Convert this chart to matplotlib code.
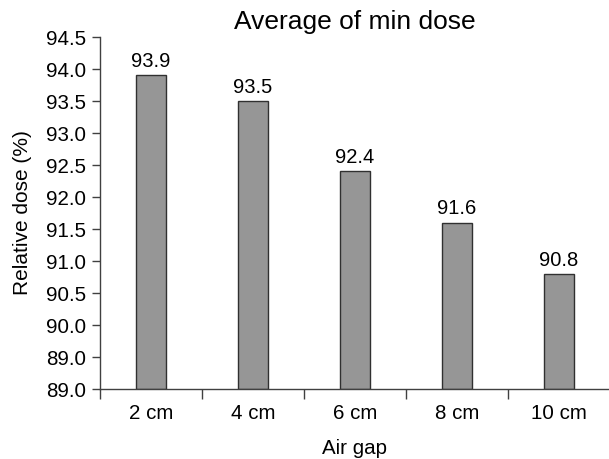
import numpy as np
import matplotlib.pyplot as plt

# data
categories = ["2 cm", "4 cm", "6 cm", "8 cm", "10 cm"]
min_dose = [93.9, 93.5, 92.4, 91.6, 90.8]
ytick_vals = [89.0, 89.5, 90.0, 90.5, 91.0, 91.5, 92.0, 92.5, 93.0, 93.5, 94.0, 94.5]
ytick_text = ["89.0", "89.0", "90.0", "90.5", "91.0", "91.5", "92.0", "92.5",
              "93.0", "93.5", "94.0", "94.5"]

plt.rcParams['font.family'] = ['Liberation Sans', 'DejaVu Sans']

fig = plt.figure(figsize=(6.09, 4.59), dpi=100)
ax = fig.add_axes([100 / 609, 1 - 389 / 459, 510 / 609, (389 - 37) / 459])

x = np.arange(len(categories))
ax.bar(x, np.array(min_dose) - 89.0, bottom=89.0, width=0.3,
       color="#969696", edgecolor="#303030", linewidth=1.0, zorder=2)

for xi, v in zip(x, min_dose):
    ax.annotate(f"{v:.1f}", (xi, v), xytext=(0, 3), textcoords="offset points",
                ha="center", va="bottom", fontsize=14.5)

ax.set_xlim(-0.5, len(categories) - 0.5)
ax.set_ylim(89.0, 94.5)
ax.set_yticks(ytick_vals)
ax.set_yticklabels(ytick_text, fontsize=14.8)

# category boundaries get the tick marks, names sit between them
ax.set_xticks(np.arange(len(categories) + 1) - 0.5)
ax.set_xticklabels([])
ax.set_xticks(x, minor=True)
ax.set_xticklabels(categories, minor=True, fontsize=14.8)
ax.tick_params(axis="x", which="minor", length=0, pad=11)
ax.tick_params(axis="x", which="major", length=7, width=1.0, color="#404040")
ax.tick_params(axis="y", length=6, width=1.0, color="#404040", pad=4)

for s in ["top", "right"]:
    ax.spines[s].set_visible(False)
for s in ["left", "bottom"]:
    ax.spines[s].set_color("#404040")
    ax.spines[s].set_linewidth(1.0)

ax.set_xlabel("Air gap", fontsize=14.8, labelpad=11)
ax.set_ylabel("Relative dose (%)", fontsize=15, labelpad=10)
ax.set_title("Average of min dose", fontsize=19, pad=6)

fig.savefig("out.png", dpi=100)
